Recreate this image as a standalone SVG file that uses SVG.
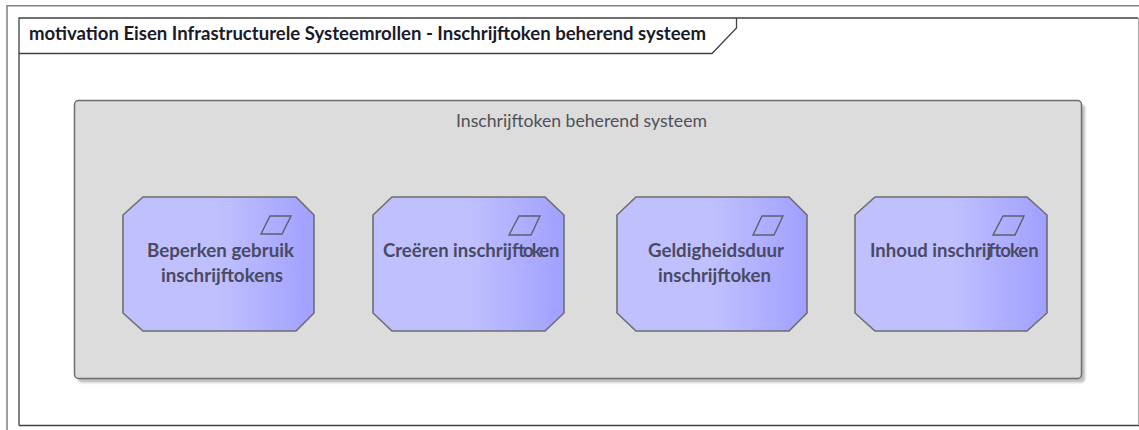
<svg xmlns="http://www.w3.org/2000/svg" width="1139" height="430" viewBox="0 0 1139 430">
<style>
text{font-family:Lato,"Open Sans",sans-serif}
.lbl{font-size:18.500px;font-weight:700;fill:#4a4a62}
.node{fill:url(#g);stroke:#6e6e6e;stroke-width:1.600}
.ico{fill:none;stroke:#5f5f6a;stroke-width:1.400}
</style>
<defs>
<linearGradient id="g" x1="0" x2="1" y1="0" y2="0"><stop offset="0" stop-color="#c0c0ff"/><stop offset="0.5" stop-color="#c0c0ff"/><stop offset="1" stop-color="#a0a0ff"/></linearGradient>
<filter id="s" x="-5%" y="-5%" width="110%" height="110%"><feGaussianBlur stdDeviation="1"/></filter>
</defs>
<rect width="1139" height="430" fill="#fff"/>
<path d="M7 430V5.800H1139" fill="none" stroke="#808080" stroke-width="1.500"/>
<g id="frame">
<path d="M19 425.500V18H1138M736.500 18V28L712 53.500H19M19 425.500H1139" fill="none" stroke="#404040" stroke-width="1.300"/>
<path d="M1138.500 18V425" fill="none" stroke="#a8a8a8" stroke-width="1"/>
<text x="29" y="40" font-size="18.500" font-weight="700" fill="#1a1a2a" textLength="677" lengthAdjust="spacingAndGlyphs">motivation Eisen Infrastructurele Systeemrollen - Inschrijftoken beherend systeem</text>
</g>
<g id="container">
<rect x="78" y="104.500" width="1007" height="278" rx="4" fill="#bdbdbd" filter="url(#s)"/>
<rect x="74.500" y="100.500" width="1007" height="278" rx="4" fill="#dcdcdc" stroke="#6e6e6e" stroke-width="1.500"/>
<text x="456" y="127" font-size="17.700" fill="#505058" textLength="251" lengthAdjust="spacingAndGlyphs">Inschrijftoken beherend systeem</text>
</g>
<g id="n1">
<path class="node" d="M143 197H296L314 215V313L296 331H143L123 313V215Z"/>
<path class="ico" d="M261 234L270 216H291L282 234Z"/>
<text class="lbl" x="147" y="257" textLength="147" lengthAdjust="spacingAndGlyphs">Beperken gebruik</text>
<text class="lbl" x="161" y="282" textLength="122" lengthAdjust="spacingAndGlyphs">inschrijftokens</text>
</g>
<g id="n2">
<path class="node" d="M392 197H545L564 215V313L545 331H392L373 313V215Z"/>
<path class="ico" d="M509 235L519 216H540L531 235Z"/>
<text class="lbl" x="383" y="257" dx="0 0 0 0 0 0 0 0 0 0 0 0 0 0 0 0 0 -3 1 -2 -2 0">Creëren inschrijftoken</text>
</g>
<g id="n3">
<path class="node" d="M636 197H789L807 215V313L789 331H636L617 313V215Z"/>
<path class="ico" d="M753 235L762 216H783L774 235Z"/>
<text class="lbl" x="648" y="257" textLength="136" lengthAdjust="spacingAndGlyphs">Geldigheidsduur</text>
<text class="lbl" x="658" y="282" textLength="113" lengthAdjust="spacingAndGlyphs">inschrijftoken</text>
</g>
<g id="n4">
<path class="node" d="M875 197H1027L1047 215V313L1027 331H875L855 313V215Z"/>
<path class="ico" d="M993 235L1003 216H1024L1015 235Z"/>
<text class="lbl" x="870" y="257" dx="0 0 0 0 0 0 0 0 0 0 0 0 0 0 0 -3 -1 0 -1 -1 0">Inhoud inschrijftoken</text>
</g>
<g id="connectors"/>
</svg>
